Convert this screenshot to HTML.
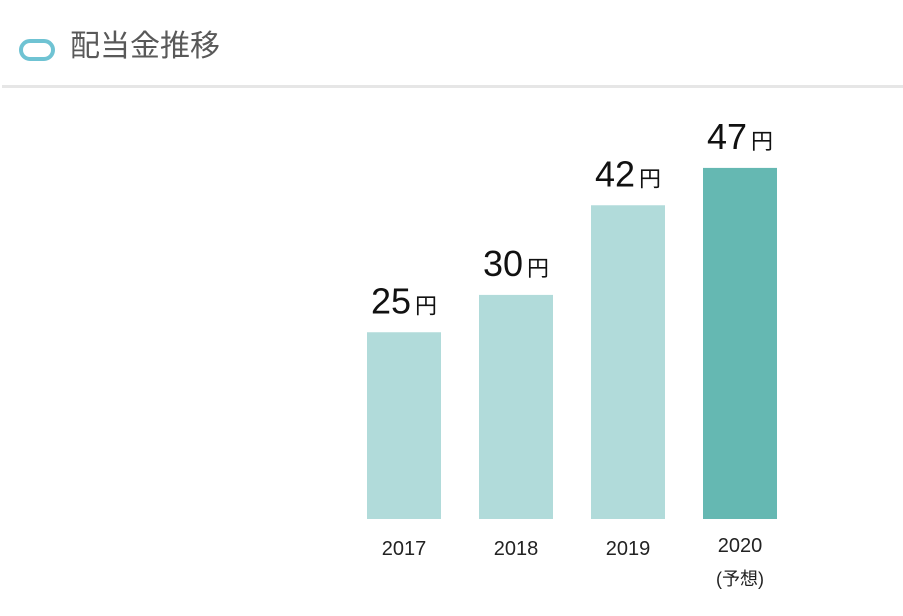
<!DOCTYPE html>
<html><head><meta charset="utf-8"><style>
body{margin:0;width:903px;height:616px;background:#fff;overflow:hidden;font-family:"Liberation Sans","Noto Sans CJK JP",sans-serif;}
.title{position:absolute;left:70px;top:25px;font-size:30px;color:#595959;line-height:44px;}
.icon{position:absolute;left:19px;top:39px;width:28px;height:14px;border:4px solid #6fc3d3;border-radius:12px;}
.rule{position:absolute;left:2px;top:85px;width:901px;height:3px;background:#e6e6e6;}
</style></head><body>
<div class="icon"></div>
<div class="title">配当金推移</div>
<div class="rule"></div>
<svg id="chart" width="903" height="616" style="position:absolute;left:0;top:0"></svg>
<script>
const categories=["2017","2018","2019","2020"];
const values=[25,30,42,47];
const subLabels=["","","","(予想)"];
const svg=document.getElementById('chart');
const NS="http://www.w3.org/2000/svg";
const baseY=519, pxPerUnit=7.47;
const y=v=>baseY-v*pxPerUnit;
const xLeft=i=>367+i*112;
const bw=74;
categories.forEach((c,i)=>{
  const r=document.createElementNS(NS,'rect');
  
  
  r.setAttribute('x',xLeft(i));r.setAttribute('y',y(values[i]));
  r.setAttribute('width',bw);r.setAttribute('height',baseY-y(values[i]));
  r.setAttribute('fill',i===3?'#65b8b2':'#b1dbda');
  svg.appendChild(r);
  const t=document.createElementNS(NS,'text');
  
  
  t.setAttribute('x',xLeft(i)+bw/2);t.setAttribute('y',y(values[i])-19);
  t.setAttribute('text-anchor','middle');t.setAttribute('fill','#111');
  t.setAttribute('font-size','36');
  t.innerHTML=values[i]+'<tspan font-size="22" dx="4">円</tspan>';
  svg.appendChild(t);
  const l=document.createElementNS(NS,'text');
  
  
  l.setAttribute('x',xLeft(i)+bw/2);l.setAttribute('y',i===3?552:555);
  l.setAttribute('text-anchor','middle');l.setAttribute('fill','#222');l.setAttribute('font-size','20');
  l.textContent=c;svg.appendChild(l);
  if(subLabels[i]){
    const s=document.createElementNS(NS,'text');
    
    
    s.setAttribute('x',xLeft(i)+bw/2);s.setAttribute('y',585);
    s.setAttribute('text-anchor','middle');s.setAttribute('fill','#222');s.setAttribute('font-size','18');
    s.textContent=subLabels[i];svg.appendChild(s);
  }
});
</script>
</body></html>
